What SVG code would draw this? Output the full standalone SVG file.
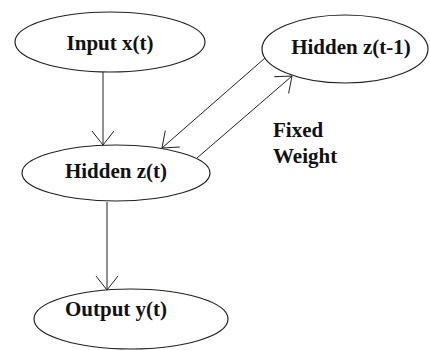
<svg xmlns="http://www.w3.org/2000/svg" width="430" height="350" viewBox="0 0 430 350">
  <style>
    .node ellipse { fill: #ffffff; stroke: #222222; stroke-width: 1.2; }
    .label { font-family: "Liberation Serif", "Times New Roman", serif; font-weight: bold; font-size: 21px; fill: #111111; }
    .edge { stroke: #222222; stroke-width: 1; fill: none; marker-end: url(#open-arrow); }
  </style>
  <defs>
    <marker id="open-arrow" viewBox="0 0 20 24" refX="18" refY="12" markerWidth="20" markerHeight="24" markerUnits="userSpaceOnUse" orient="auto">
      <path d="M4,1 L18,12 L4,23" fill="none" stroke="#222222" stroke-width="1"/>
    </marker>
  </defs>
  <rect width="430" height="350" fill="#ffffff"/>

  <!-- connectors -->
  <g id="connectors">
    <line class="edge" x1="103" y1="72" x2="103" y2="145"/>
    <line class="edge" x1="107" y1="202" x2="107" y2="290"/>
    <line class="edge" x1="265" y1="58" x2="162" y2="148"/>
    <line class="edge" x1="197" y1="158" x2="292" y2="76"/>
  </g>

  <g class="node" id="input">
    <ellipse cx="110" cy="42" rx="95" ry="30"/>
    <text class="label" x="110" y="50" text-anchor="middle">Input x(t)</text>
  </g>

  <g class="node" id="hidden-t">
    <ellipse cx="116" cy="173" rx="94" ry="28"/>
    <text class="label" x="116" y="178" text-anchor="middle">Hidden z(t)</text>
  </g>

  <g class="node" id="hidden-prev">
    <ellipse cx="345" cy="49" rx="83" ry="34"/>
    <text class="label" x="351" y="54" text-anchor="middle">Hidden z(t-1)</text>
  </g>

  <g class="node" id="output">
    <ellipse cx="131" cy="319" rx="97" ry="30"/>
    <text class="label" x="116" y="316" text-anchor="middle">Output y(t)</text>
  </g>

  <g id="edge-label">
    <text class="label" x="273" y="137">Fixed</text>
    <text class="label" x="273" y="163">Weight</text>
  </g>
</svg>
